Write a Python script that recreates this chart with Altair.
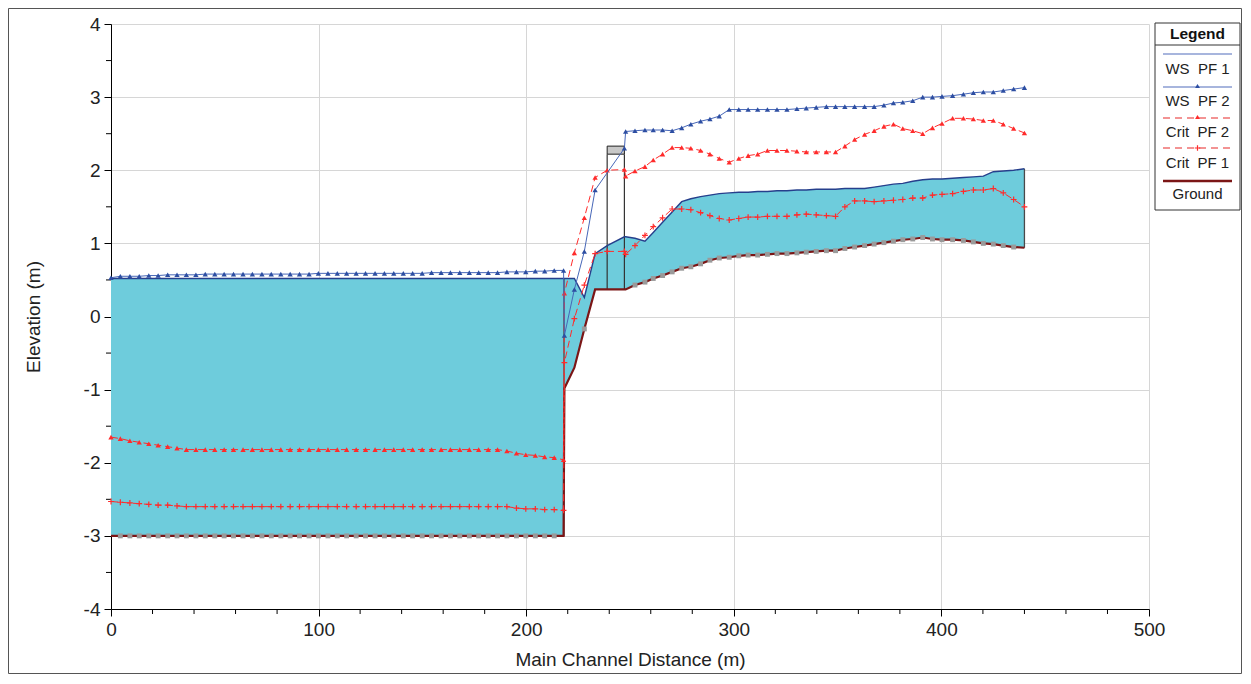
import altair as alt
import pandas as pd

FONT = "Liberation Sans"

# ---------------- data ----------------
LEFT_X = [0.0, 4.5, 9.1, 13.6, 18.2, 22.7, 27.3, 31.8, 36.3, 40.9,
          45.4, 50.0, 54.5, 59.0, 63.6, 68.1, 72.7, 77.2, 81.8, 86.3,
          90.8, 95.4, 99.9, 104.5, 109.0, 113.5, 118.1, 122.6, 127.2, 131.7,
          136.2, 140.8, 145.3, 149.9, 154.4, 159.0, 163.5, 168.0, 172.6, 177.1,
          181.7, 186.2, 190.7, 195.3, 199.8, 204.4, 208.9, 213.5, 218.0]
LEFT_GROUND = [-3.0, -3.0, -3.0, -3.0, -3.0, -3.0, -3.0, -3.0, -3.0, -3.0,
               -3.0, -3.0, -3.0, -3.0, -3.0, -3.0, -3.0, -3.0, -3.0, -3.0,
               -3.0, -3.0, -3.0, -3.0, -3.0, -3.0, -3.0, -3.0, -3.0, -3.0,
               -3.0, -3.0, -3.0, -3.0, -3.0, -3.0, -3.0, -3.0, -3.0, -3.0,
               -3.0, -3.0, -3.0, -3.0, -3.0, -3.0, -3.0, -3.0, -3.0]
LEFT_WS1 = [0.52, 0.52, 0.52, 0.52, 0.52, 0.52, 0.52, 0.52, 0.52, 0.52,
            0.52, 0.52, 0.52, 0.52, 0.52, 0.52, 0.52, 0.52, 0.52, 0.52,
            0.52, 0.52, 0.52, 0.52, 0.52, 0.52, 0.52, 0.52, 0.52, 0.52,
            0.52, 0.52, 0.52, 0.52, 0.52, 0.52, 0.52, 0.52, 0.52, 0.52,
            0.52, 0.52, 0.52, 0.52, 0.52, 0.52, 0.52, 0.52, 0.52]
LEFT_WS2 = [0.53, 0.55, 0.55, 0.55, 0.56, 0.56, 0.57, 0.57, 0.57, 0.57,
            0.58, 0.58, 0.58, 0.58, 0.58, 0.58, 0.58, 0.58, 0.58, 0.58,
            0.58, 0.58, 0.59, 0.59, 0.59, 0.59, 0.59, 0.59, 0.59, 0.59,
            0.59, 0.59, 0.59, 0.59, 0.60, 0.60, 0.60, 0.60, 0.60, 0.60,
            0.60, 0.60, 0.61, 0.61, 0.61, 0.62, 0.62, 0.63, 0.63]
LEFT_CRIT2 = [-1.65, -1.67, -1.70, -1.72, -1.74, -1.76, -1.78, -1.80, -1.82, -1.82,
              -1.82, -1.82, -1.82, -1.82, -1.82, -1.82, -1.82, -1.82, -1.82, -1.82,
              -1.82, -1.82, -1.82, -1.82, -1.82, -1.82, -1.82, -1.82, -1.82, -1.82,
              -1.82, -1.82, -1.82, -1.82, -1.82, -1.82, -1.82, -1.82, -1.82, -1.82,
              -1.82, -1.82, -1.84, -1.87, -1.89, -1.90, -1.92, -1.93, -1.96]
LEFT_CRIT1 = [-2.53, -2.54, -2.55, -2.56, -2.57, -2.58, -2.58, -2.59, -2.60, -2.60,
              -2.60, -2.60, -2.60, -2.60, -2.60, -2.60, -2.60, -2.60, -2.60, -2.60,
              -2.60, -2.60, -2.60, -2.60, -2.60, -2.60, -2.60, -2.60, -2.60, -2.60,
              -2.60, -2.60, -2.60, -2.60, -2.60, -2.60, -2.60, -2.60, -2.60, -2.60,
              -2.60, -2.60, -2.60, -2.62, -2.63, -2.63, -2.64, -2.64, -2.65]

RIGHT_X = [218.4, 223.2, 228.0, 233.2, 239.0, 247.3, 247.9, 252.4, 257.2, 261.2,
           265.7, 270.3, 274.9, 279.3, 284.0, 288.5, 293.0, 297.8, 302.4, 306.9,
           311.5, 316.2, 320.8, 325.6, 330.4, 334.9, 339.7, 344.6, 349.0, 353.5,
           358.2, 363.0, 367.6, 372.3, 376.9, 381.4, 386.2, 391.0, 395.7, 400.3,
           405.4, 410.6, 415.4, 420.2, 425.0, 429.8, 434.8, 440.0]
RIGHT_GROUND = [-0.98, -0.70, -0.17, 0.37, 0.37, 0.37, 0.37, 0.43, 0.47, 0.52,
                0.56, 0.61, 0.66, 0.68, 0.72, 0.77, 0.80, 0.81, 0.83, 0.84,
                0.84, 0.85, 0.86, 0.86, 0.87, 0.88, 0.89, 0.90, 0.90, 0.93,
                0.95, 0.97, 0.99, 1.01, 1.03, 1.05, 1.06, 1.08, 1.06, 1.05,
                1.05, 1.04, 1.02, 1.00, 0.99, 0.97, 0.95, 0.94]
RIGHT_WS1 = [0.52, 0.52, 0.26, 0.86, 0.97, 1.09, 1.09, 1.07, 1.03, 1.15,
             1.29, 1.43, 1.57, 1.61, 1.64, 1.66, 1.68, 1.69, 1.70, 1.70,
             1.71, 1.71, 1.72, 1.72, 1.73, 1.73, 1.74, 1.74, 1.74, 1.75,
             1.75, 1.75, 1.77, 1.79, 1.81, 1.82, 1.85, 1.87, 1.88, 1.88,
             1.89, 1.90, 1.91, 1.92, 1.98, 1.99, 2.00, 2.02]
RIGHT_WS2 = [-0.26, 0.37, 0.89, 1.73, None, 2.30, 2.53, 2.54, 2.55, 2.55,
             2.55, 2.54, 2.58, 2.63, 2.67, 2.70, 2.74, 2.83, 2.83, 2.83,
             2.83, 2.83, 2.83, 2.83, 2.84, 2.85, 2.86, 2.87, 2.87, 2.87,
             2.87, 2.87, 2.87, 2.89, 2.92, 2.93, 2.95, 3.00, 3.00, 3.01,
             3.02, 3.04, 3.06, 3.07, 3.07, 3.09, 3.11, 3.13]
RIGHT_CRIT2 = [0.32, 0.87, 1.35, 1.90, 2.00, 2.01, 1.92, 1.99, 2.05, 2.14,
               2.22, 2.31, 2.31, 2.30, 2.27, 2.22, 2.16, 2.11, 2.16, 2.20,
               2.22, 2.27, 2.27, 2.27, 2.26, 2.25, 2.25, 2.25, 2.25, 2.33,
               2.42, 2.49, 2.54, 2.60, 2.63, 2.57, 2.54, 2.50, 2.58, 2.64,
               2.71, 2.71, 2.70, 2.68, 2.68, 2.63, 2.57, 2.51]
RIGHT_CRIT1 = [-0.63, -0.03, 0.43, 0.86, 0.89, 0.89, 0.85, 0.97, 1.11, 1.23,
               1.35, 1.47, 1.47, 1.46, 1.42, 1.38, 1.34, 1.32, 1.34, 1.36,
               1.36, 1.37, 1.37, 1.37, 1.39, 1.40, 1.39, 1.38, 1.37, 1.50,
               1.58, 1.58, 1.57, 1.58, 1.59, 1.60, 1.62, 1.62, 1.66, 1.67,
               1.68, 1.71, 1.73, 1.73, 1.75, 1.69, 1.60, 1.50]

NO_SQUARE = [0.0, 218.0, 218.4, 223.2, 233.2, 239.0, 247.3, 247.9, 440.0]

BRIDGE_X = [239.0, 247.3]
BRIDGE_DECK = [2.22, 2.33]
BRIDGE_BASE = 0.37

X_TICKS = [0, 100, 200, 300, 400, 500]
X_MINOR = [20, 40, 60, 80, 120, 140, 160, 180, 220, 240, 260, 280,
           320, 340, 360, 380, 420, 440, 460, 480]
Y_TICKS = [-4, -3, -2, -1, 0, 1, 2, 3, 4]
Y_MINOR = [-3.5, -2.5, -1.5, -0.5, 0.5, 1.5, 2.5, 3.5]

X_TITLE = "Main Channel Distance (m)"
Y_TITLE = "Elevation (m)"
LEGEND_LABELS = ["WS\u00a0 PF 1", "WS\u00a0 PF 2", "Crit\u00a0 PF 2", "Crit\u00a0 PF 1", "Ground"]

# ---------------- styling ----------------
C_FILL = "#6ECCDC"
C_WS1 = "#263F8C"
C_WS2 = "#4767B8"
C_WS2_MK = "#2D4EA2"
C_CRIT = "#FF2B2B"
C_GROUND = "#7B1616"
C_SQ = "#9A9A9A"
PLUS = "M-1,0L1,0M0,-1L0,1"

W, H = 1038, 585

prof = pd.DataFrame({
    "x": LEFT_X + RIGHT_X,
    "ground": LEFT_GROUND + RIGHT_GROUND,
    "ws1": LEFT_WS1 + RIGHT_WS1,
    "ws2": LEFT_WS2 + RIGHT_WS2,
    "crit2": LEFT_CRIT2 + RIGHT_CRIT2,
    "crit1": LEFT_CRIT1 + RIGHT_CRIT1,
})

xs = alt.Scale(domain=[0, 500], nice=False, zero=False)
ys = alt.Scale(domain=[-4, 4], nice=False, zero=False)

axis_common = dict(
    grid=True, gridColor="#d6d6d6", gridWidth=1,
    domainColor="#000000", domainWidth=1, tickColor="#000000", tickWidth=1,
    tickSize=7, labelFont=FONT, labelFontSize=19, labelColor="#222222",
    titleFont=FONT, titleFontSize=19, titleFontWeight="normal", titleColor="#222222",
    labelFlush=False, labelOverlap=False, labelExpr="'' + datum.value", labelPadding=4,
)
AX = alt.Axis(values=X_TICKS, titlePadding=11, **axis_common)
AY = alt.Axis(values=Y_TICKS, titlePadding=40, **axis_common)


def X(field="x"):
    return alt.X(f"{field}:Q", scale=xs, axis=AX, title=X_TITLE)


def Y(field):
    return alt.Y(f"{field}:Q", scale=ys, axis=AY, title=Y_TITLE)


fill = alt.Chart(prof).mark_area(color=C_FILL, opacity=1).encode(
    x=X(), y=Y("ws1"), y2="ground:Q")

xminor = alt.Chart(pd.DataFrame({"v": X_MINOR})).mark_rule(color="#000000", strokeWidth=1).encode(
    x=X("v"), y=alt.value(H), y2=alt.value(H + 5))
yminor = alt.Chart(pd.DataFrame({"v": Y_MINOR})).mark_rule(color="#000000", strokeWidth=1).encode(
    x=alt.value(-5), x2=alt.value(0), y=Y("v"))

bounds = pd.DataFrame({
    "x": [LEFT_X[-1] + 0.2, RIGHT_X[-1]],
    "lo": [LEFT_GROUND[-1], RIGHT_GROUND[-1]],
    "hi": [LEFT_WS1[-1], RIGHT_WS1[-1]],
})
bound_rules = alt.Chart(bounds).mark_rule(color="#4a4a4a", strokeWidth=1.3).encode(
    x=X(), y=Y("lo"), y2="hi:Q")

bridge_df = pd.DataFrame({"x0": [BRIDGE_X[0]], "x1": [BRIDGE_X[1]],
                          "d0": [BRIDGE_DECK[0]], "d1": [BRIDGE_DECK[1]]})
deck = alt.Chart(bridge_df).mark_rect(fill="#C8C8C8", stroke="#222222", strokeWidth=1).encode(
    x=X("x0"), x2="x1:Q", y=Y("d0"), y2="d1:Q")
piers = alt.Chart(pd.DataFrame({"x": BRIDGE_X, "lo": [BRIDGE_BASE, BRIDGE_BASE],
                                "hi": [BRIDGE_DECK[0], BRIDGE_DECK[0]]})).mark_rule(
    color="#333333", strokeWidth=1.2).encode(x=X(), y=Y("lo"), y2="hi:Q")

ground_line = alt.Chart(prof).mark_line(color=C_GROUND, strokeWidth=2.2).encode(x=X(), y=Y("ground"))
sq_df = prof[~prof["x"].isin(NO_SQUARE)]
ground_sq = alt.Chart(sq_df).mark_square(color=C_SQ, size=24, opacity=1).encode(x=X(), y=Y("ground"))

ws1_line = alt.Chart(prof).mark_line(color=C_WS1, strokeWidth=1.4).encode(x=X(), y=Y("ws1"))

c1 = prof.dropna(subset=["crit1"])
crit1_line = alt.Chart(c1).mark_line(color=C_CRIT, strokeWidth=1, strokeDash=[7, 4]).encode(x=X(), y=Y("crit1"))
crit1_pts = alt.Chart(c1).mark_point(shape=PLUS, size=34, filled=False, stroke=C_CRIT,
                                     strokeWidth=1.2, opacity=1).encode(x=X(), y=Y("crit1"))

c2 = prof.dropna(subset=["crit2"])
crit2_line = alt.Chart(c2).mark_line(color=C_CRIT, strokeWidth=1, strokeDash=[7, 4]).encode(x=X(), y=Y("crit2"))
crit2_pts = alt.Chart(c2).mark_point(shape="triangle-up", size=28, filled=True, color=C_CRIT,
                                     opacity=1).encode(x=X(), y=Y("crit2"))

w2 = prof.dropna(subset=["ws2"])
ws2_line = alt.Chart(w2).mark_line(color=C_WS2, strokeWidth=1).encode(x=X(), y=Y("ws2"))
ws2_pts = alt.Chart(w2).mark_point(shape="triangle-up", size=28, filled=True, color=C_WS2_MK,
                                   opacity=1).encode(x=X(), y=Y("ws2"))

# ---------------- legend (drawn) ----------------
one = pd.DataFrame({"k": [0]})
LX0, LX1 = 1044, 1129
LCX = (LX0 + LX1) / 2
SX0, SX1 = 1052, 1121

leg = [
    alt.Chart(one).mark_rect(fill="#ffffff", stroke="#333333", strokeWidth=1).encode(
        x=alt.value(LX0), x2=alt.value(LX1), y=alt.value(-1), y2=alt.value(186)),
    alt.Chart(one).mark_text(text="Legend", font=FONT, fontSize=15.5, fontWeight="bold",
                             color="#111111", align="center", baseline="middle").encode(
        x=alt.value(LCX), y=alt.value(10)),
    alt.Chart(one).mark_rule(color="#333333", strokeWidth=1).encode(
        x=alt.value(LX0), x2=alt.value(LX1), y=alt.value(21)),
    alt.Chart(one).mark_rule(color="#8A9CD2", strokeWidth=1.5).encode(
        x=alt.value(SX0), x2=alt.value(SX1), y=alt.value(30)),
    alt.Chart(one).mark_rule(color="#8A9CD2", strokeWidth=1.5).encode(
        x=alt.value(SX0), x2=alt.value(SX1), y=alt.value(63)),
    alt.Chart(one).mark_point(shape="triangle-up", size=24, filled=True, color=C_WS2_MK, opacity=1).encode(
        x=alt.value(LCX), y=alt.value(62)),
    alt.Chart(one).mark_rule(color="#F07070", strokeWidth=1.5, strokeDash=[7, 5]).encode(
        x=alt.value(SX0), x2=alt.value(SX1), y=alt.value(94)),
    alt.Chart(one).mark_point(shape="triangle-up", size=24, filled=True, color=C_CRIT, opacity=1).encode(
        x=alt.value(LCX), y=alt.value(93)),
    alt.Chart(one).mark_rule(color="#F07070", strokeWidth=1.5, strokeDash=[7, 5]).encode(
        x=alt.value(SX0), x2=alt.value(SX1), y=alt.value(124)),
    alt.Chart(one).mark_point(shape=PLUS, size=30, filled=False, stroke=C_CRIT, strokeWidth=1.2,
                              opacity=1).encode(x=alt.value(LCX), y=alt.value(124)),
    alt.Chart(one).mark_rule(color=C_GROUND, strokeWidth=2.5).encode(
        x=alt.value(SX0), x2=alt.value(SX1), y=alt.value(157)),
]
for lab, yy in zip(LEGEND_LABELS, [45, 77, 108, 139, 170]):
    leg.append(alt.Chart(one).mark_text(text=lab, font=FONT, fontSize=15, color="#222222",
                                        align="center", baseline="middle").encode(
        x=alt.value(LCX), y=alt.value(yy)))

frame = alt.Chart(one).mark_rect(fillOpacity=0, stroke="#555555", strokeWidth=1).encode(
    x=alt.value(-102.5), x2=alt.value(1130.5), y=alt.value(-15.5), y2=alt.value(649.5))

chart = alt.layer(
    fill, xminor, yminor, bound_rules, deck, piers,
    ground_line, ground_sq, ws1_line,
    crit1_line, crit1_pts, crit2_line, crit2_pts, ws2_line, ws2_pts,
    *leg, frame,
).properties(
    width=W, height=H,
    autosize=alt.AutoSizeParams(type="none"),
    padding={"left": 103, "top": 16, "right": 93, "bottom": 65},
    background="#ffffff",
).configure_view(stroke=None)

chart.save("out.html", embed_options={"renderer": "svg", "actions": False})
